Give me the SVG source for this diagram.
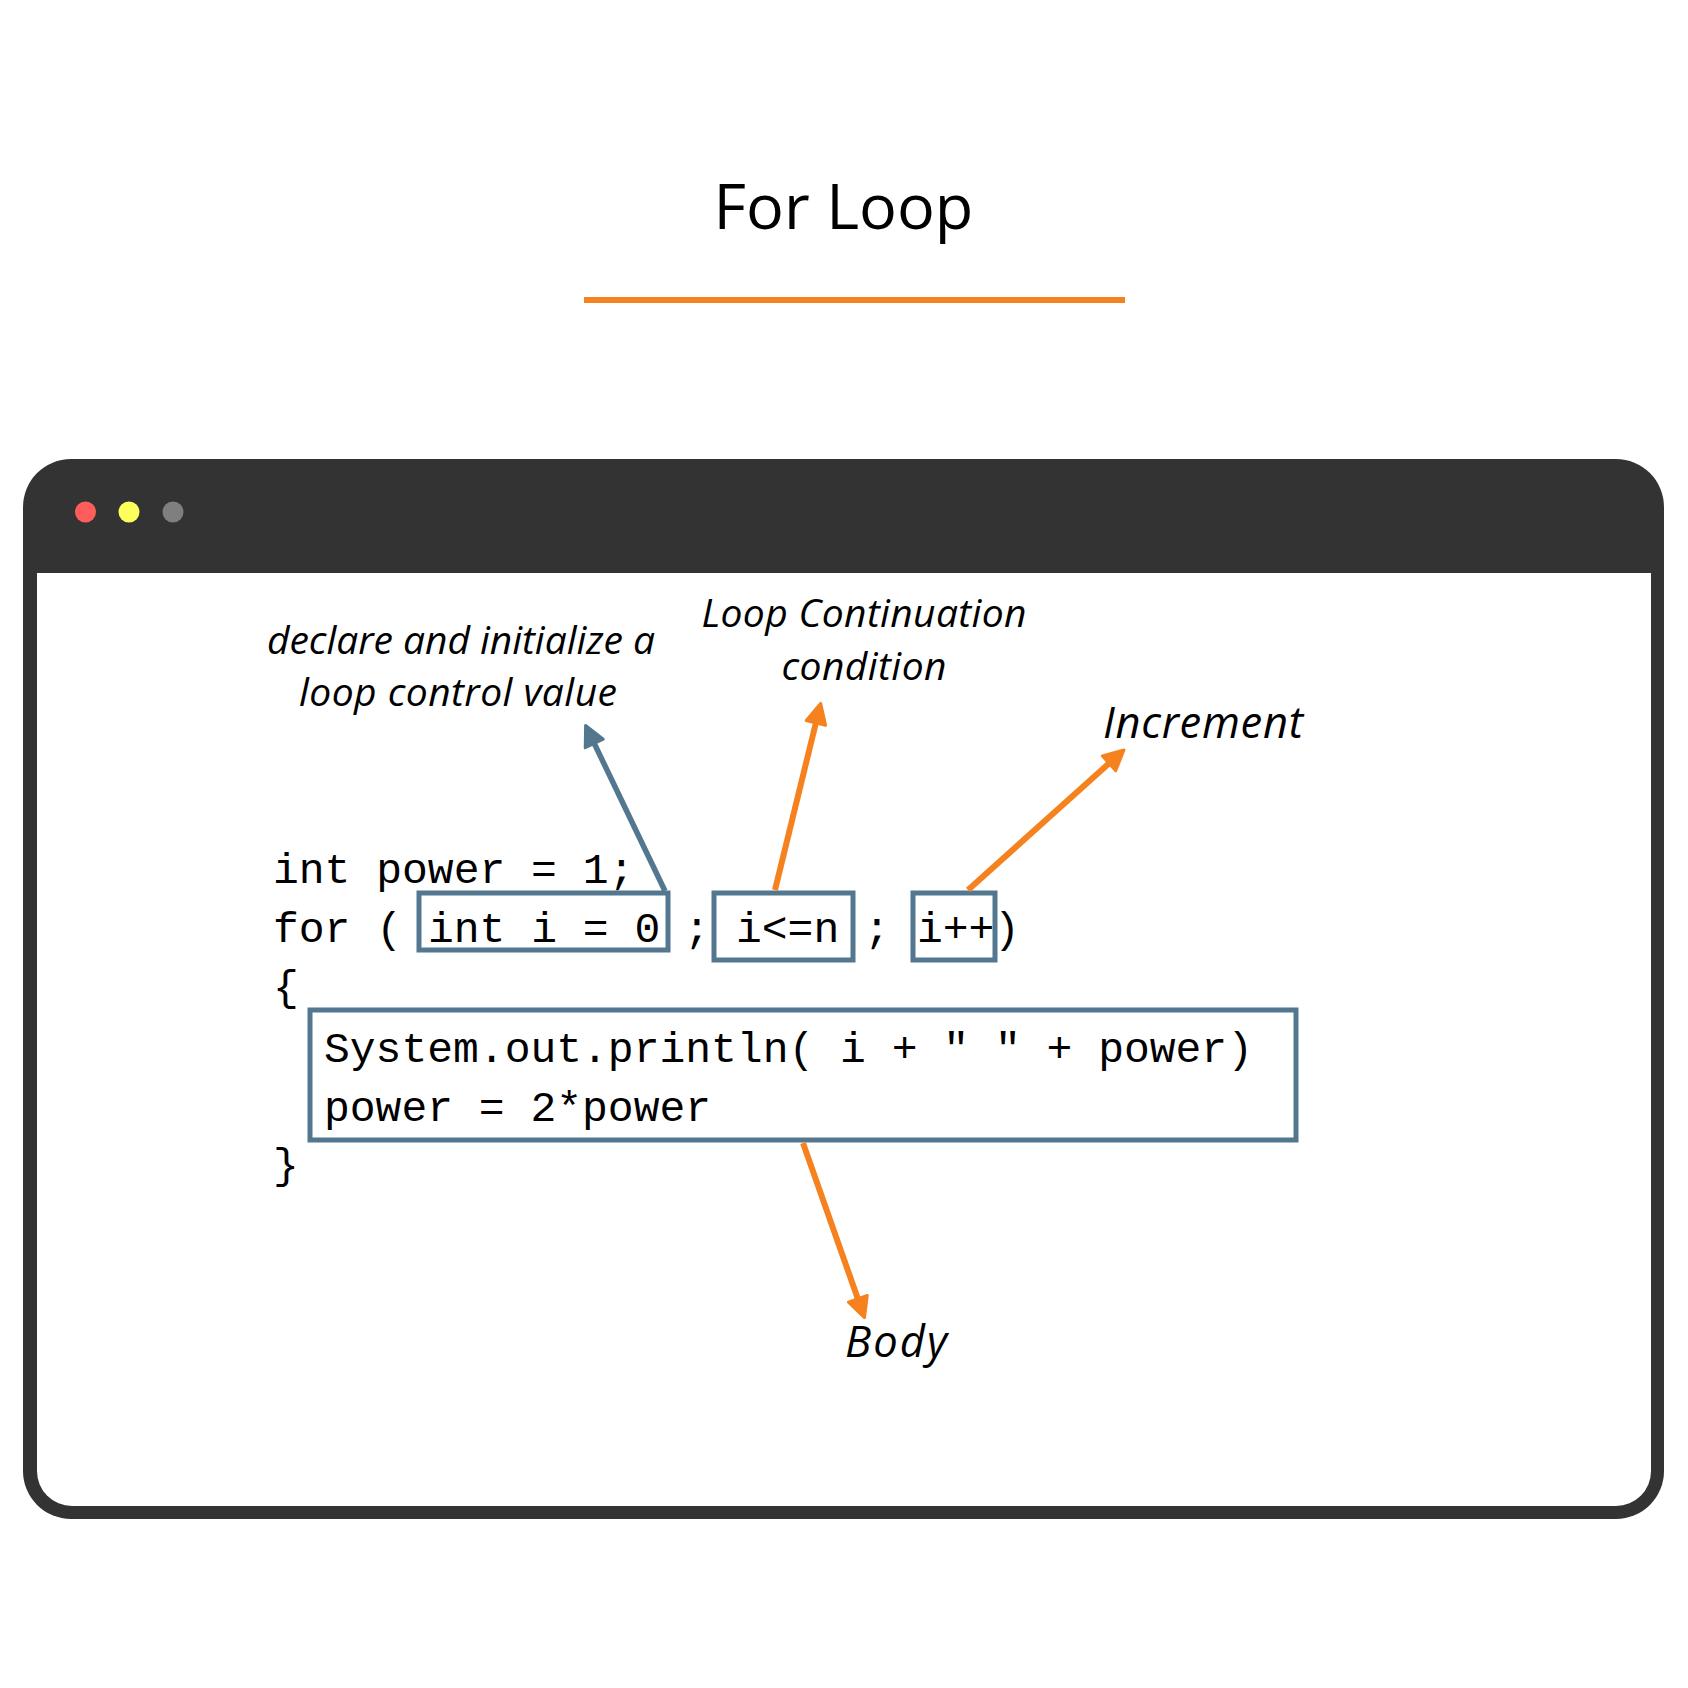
<svg xmlns="http://www.w3.org/2000/svg" width="1688" height="1688" viewBox="0 0 1688 1688">
  <style>
    .title { font-family: "Open Sans", "Noto Sans", sans-serif; font-size: 63px; fill: #000; }
    .lbl { font-family: "Open Sans", "Noto Sans", sans-serif; font-style: italic; font-size: 39px; fill: #000; }
    .lbl-lg { font-size: 43.5px; }
    .code { font-family: "Liberation Mono", "DejaVu Sans Mono", monospace; font-size: 43px; fill: #000; white-space: pre; }
    .box { fill: none; stroke: #52778F; stroke-width: 5; }
    .arr-blue { fill: none; stroke: #52778F; stroke-width: 5.5; }
    .arr-orange { fill: none; stroke: #F5821F; stroke-width: 6; }
  </style>
  <defs>
    <marker id="headOrange" markerUnits="userSpaceOnUse" viewBox="-3 -14 27 28" markerWidth="27" markerHeight="28" refX="8" refY="0" orient="auto">
      <path d="M0,-10 L20,0 L0,10 Z" fill="#F5821F" stroke="#F5821F" stroke-width="3" stroke-linejoin="round"/>
    </marker>
    <marker id="headBlue" markerUnits="userSpaceOnUse" viewBox="-3 -14 27 28" markerWidth="27" markerHeight="28" refX="8" refY="0" orient="auto">
      <path d="M0,-10 L20,0 L0,10 Z" fill="#52778F" stroke="#52778F" stroke-width="3" stroke-linejoin="round"/>
    </marker>
  </defs>

  <rect x="0" y="0" width="1688" height="1688" fill="#FFFFFF"/>

  <g id="title">
    <text class="title" x="843.5" y="229" text-anchor="middle">For Loop</text>
    <line x1="584" y1="300" x2="1125" y2="300" stroke="#F5821F" stroke-width="6"/>
  </g>

  <g id="window">
    <rect x="23" y="459" width="1641" height="1060" rx="48" ry="48" fill="#333333"/>
    <path d="M37,573 H1651 V1471 A35,35 0 0 1 1616,1506 H72 A35,35 0 0 1 37,1471 Z" fill="#FFFFFF"/>
    <circle cx="85.5" cy="512" r="10.5" fill="#FF5C5C"/>
    <circle cx="129" cy="512" r="10.5" fill="#FFFF5C"/>
    <circle cx="173" cy="512" r="10.5" fill="#7F7F7F"/>
  </g>

  <g id="code">
    <text class="code" x="273" y="883">int power = 1;</text>
    <text class="code" x="273" y="942">for (</text>
    <text class="code" x="684" y="942">;</text>
    <text class="code" x="864" y="942">;</text>
    <text class="code" x="994" y="942">)</text>
    <text class="code" x="273" y="1000">{</text>
    <text class="code" x="273" y="1178">}</text>
  </g>

  <g id="init-box">
    <rect class="box" x="419" y="893" width="249" height="57"/>
    <text class="code" x="428" y="942">int i = 0</text>
  </g>

  <g id="condition-box">
    <rect class="box" x="714" y="893" width="139" height="67"/>
    <text class="code" x="736" y="942">i&lt;=n</text>
  </g>

  <g id="increment-box">
    <rect class="box" x="913" y="893" width="82" height="67"/>
    <text class="code" x="917" y="942">i++</text>
  </g>

  <g id="body-box">
    <rect class="box" x="310" y="1010" width="986" height="130"/>
    <text class="code" x="324" y="1062">System.out.println( i + " " + power)</text>
    <text class="code" x="324" y="1121">power = 2*power</text>
  </g>

  <g id="label-init">
    <text class="lbl" x="461" y="654" text-anchor="middle" textLength="388">declare and initialize a</text>
    <text class="lbl" x="458" y="706" text-anchor="middle" textLength="318">loop control value</text>
  </g>

  <g id="label-condition">
    <text class="lbl" x="864" y="627" text-anchor="middle" textLength="325">Loop Continuation</text>
    <text class="lbl" x="864" y="680" text-anchor="middle" textLength="165">condition</text>
  </g>

  <g id="label-increment">
    <text class="lbl lbl-lg" x="1203" y="738" text-anchor="middle" textLength="200">Increment</text>
  </g>

  <g id="label-body">
    <text class="lbl lbl-lg" x="896" y="1357" text-anchor="middle" textLength="102">Body</text>
  </g>

  <g id="connectors">
    <path class="arr-blue" d="M665,891 L590.8,736.2" marker-end="url(#headBlue)"/>
    <path class="arr-orange" d="M775,890 L817.8,715.1" marker-end="url(#headOrange)"/>
    <path class="arr-orange" d="M968,890 L1115,758" marker-end="url(#headOrange)"/>
    <path class="arr-orange" d="M803,1143 L860.5,1306.3" marker-end="url(#headOrange)"/>
  </g>
</svg>
